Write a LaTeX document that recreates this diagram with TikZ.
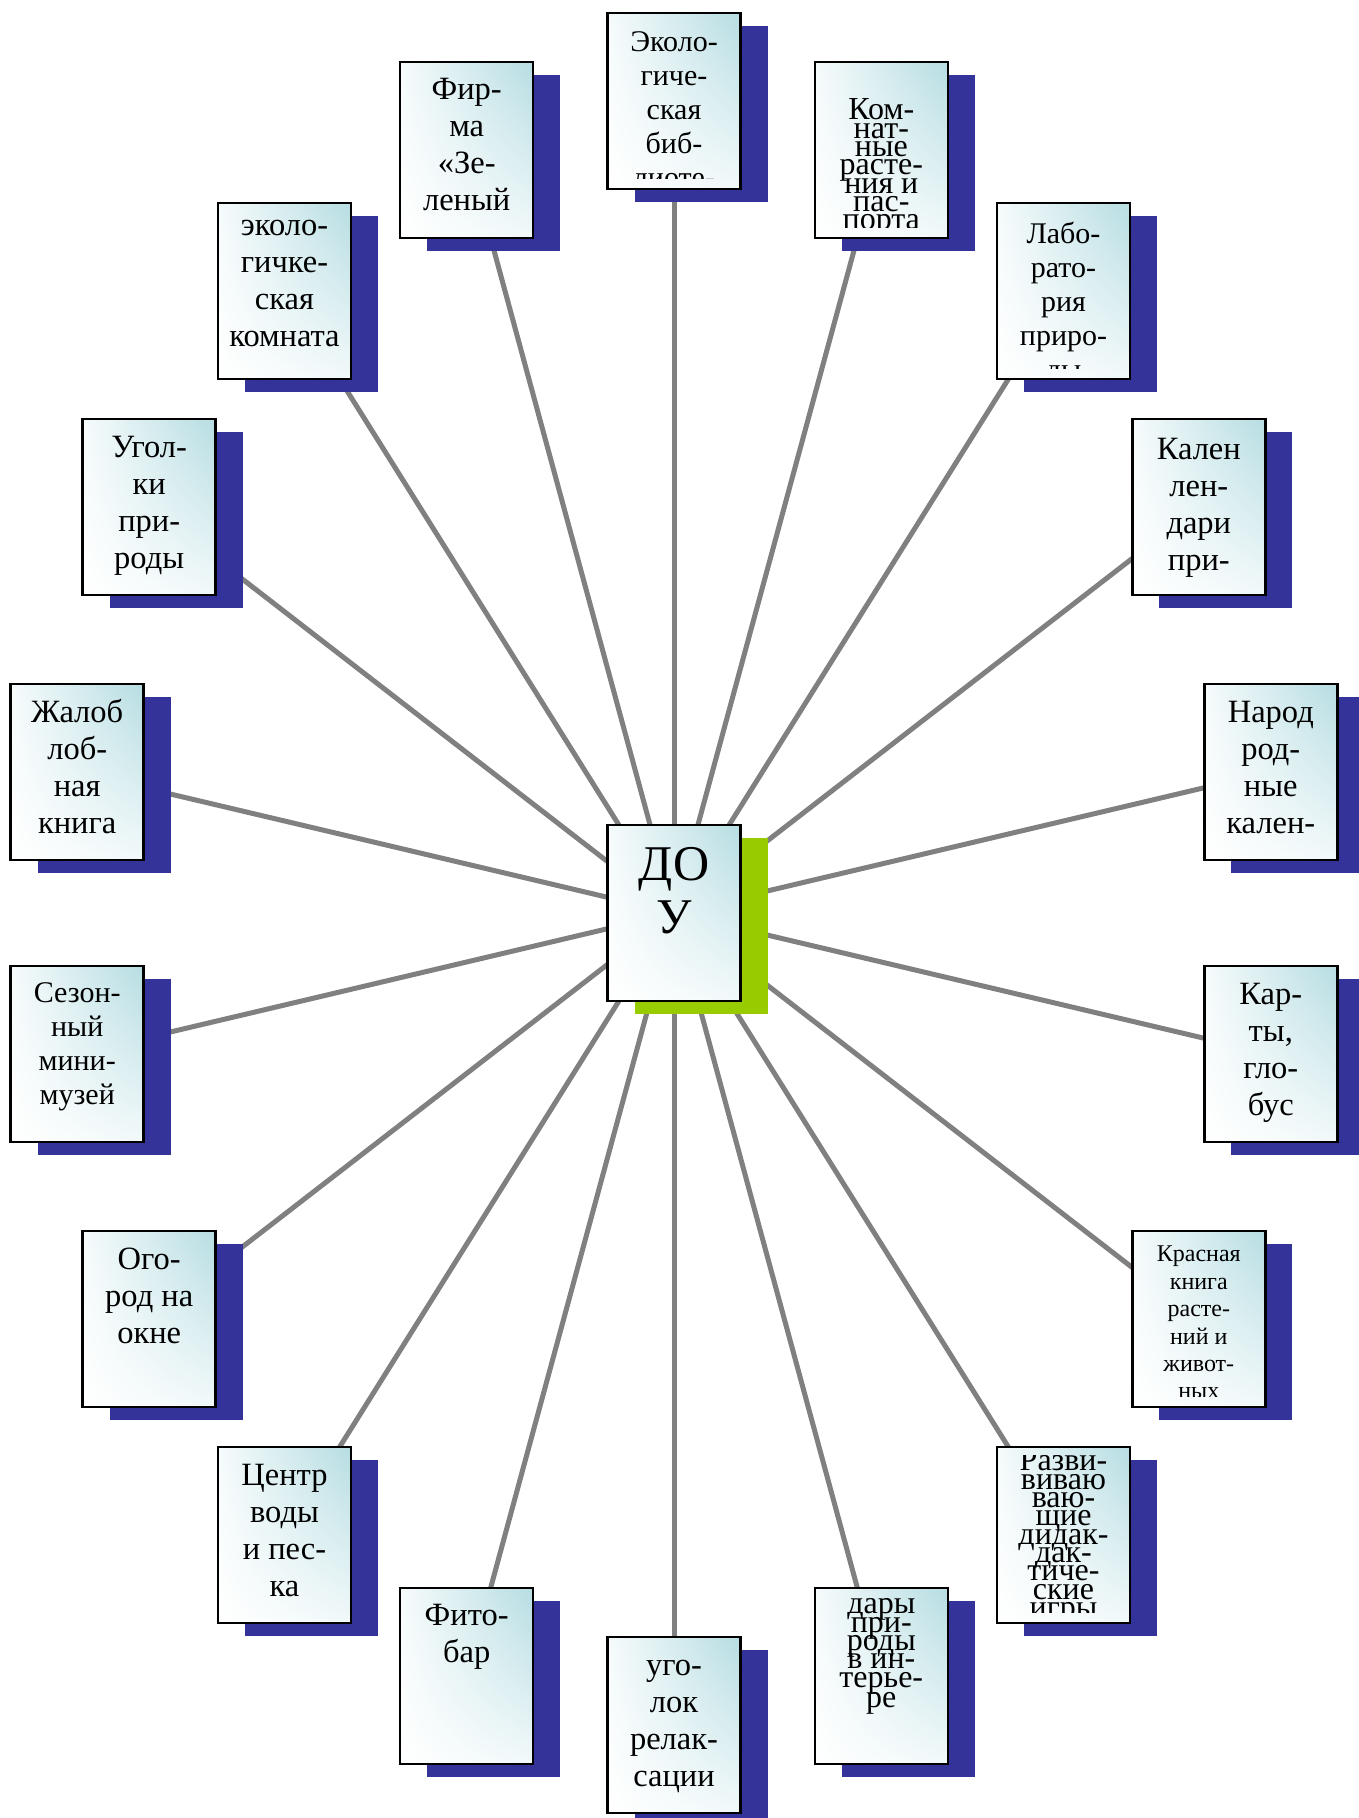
\documentclass[tikz,border=0pt]{standalone}
\usepackage{fontspec}
\setmainfont{Liberation Serif}
\usetikzlibrary{shadows,shadings}
\definecolor{shblue}{RGB}{51,51,153}
\definecolor{shgreen}{RGB}{153,204,0}
\definecolor{boxteal}{RGB}{182,221,226}
\definecolor{conngray}{RGB}{128,128,128}
\pgfdeclarelayer{bg}
\pgfsetlayers{bg,main}
\lineskiplimit=-1000pt
\newcommand{\fsnorm}{\fontsize{32.5}{37}\selectfont}
\newcommand{\fsmid}{\fontsize{30}{33.8}\selectfont}
\newcommand{\fstight}{\fontsize{32}{18.3}\selectfont}
\newcommand{\fssmall}{\fontsize{24}{27.4}\selectfont}
\newcommand{\fsbig}{\fontsize{50}{53}\selectfont}
\tikzset{
  ebox/.style={draw=black, line width=2.5pt, minimum width=133pt, minimum height=176pt,
     inner sep=0pt, upper right=boxteal, upper left=boxteal!12, lower right=boxteal!18,
     lower left=white,
     drop shadow={shadow xshift=27pt, shadow yshift=-13pt, opacity=1, fill=shblue, draw=none}},
  cbox/.style={ebox, drop shadow={shadow xshift=27pt, shadow yshift=-13pt, opacity=1, fill=shgreen, draw=none}},
  conn/.style={draw=conngray, line width=5pt},
  etext/.style={anchor=north, align=center, inner sep=0pt, font=\fsnorm},
  midstyle/.style={font=\fsmid},
  tightstyle/.style={font=\fstight},
  smallstyle/.style={font=\fssmall},
  bigstyle/.style={font=\fsbig},
}
% #1 box name, #2 first-baseline offset from box top, #3 style, #4 text
\newcommand{\boxtext}[4]{%
  \begin{scope}
    \clip ([xshift=3pt,yshift=-10pt]#1.north west) rectangle ([xshift=-3pt,yshift=12pt]#1.south east);
    \node[etext,#3] (#1t) at ([yshift=50pt-#2pt]#1.north) {\rule{0pt}{50pt}#4};
  \end{scope}}
\begin{document}
\begin{tikzpicture}[x=1pt,y=-1pt]
\useasboundingbox (0,0) rectangle (1359,1818);
% boxes
\node[ebox] (b0) at (674,101) {};
\node[ebox] (b1) at (881.3,150) {};
\node[ebox] (b2) at (1063.5,291) {};
\node[ebox] (b3) at (1198.8,507) {};
\node[ebox] (b4) at (1270.8,772) {};
\node[ebox] (b5) at (1270.8,1054) {};
\node[ebox] (b6) at (1198.8,1319) {};
\node[ebox] (b7) at (1063.5,1535) {};
\node[ebox] (b8) at (881.3,1676) {};
\node[ebox] (b9) at (674,1725) {};
\node[ebox] (b10) at (466.7,1676) {};
\node[ebox] (b11) at (284.5,1535) {};
\node[ebox] (b12) at (149.2,1319) {};
\node[ebox] (b13) at (77.2,1054) {};
\node[ebox] (b14) at (77.2,772) {};
\node[ebox] (b15) at (149.2,507) {};
\node[ebox] (b16) at (284.5,291) {};
\node[ebox] (b17) at (466.7,150) {};
\node[cbox] (c) at (674,913) {};
% connectors
\begin{pgfonlayer}{bg}
\foreach \i in {0,...,17} {\draw[conn] (c.center) -- (b\i.center);}
\end{pgfonlayer}
% texts
\boxtext{c}{57}{bigstyle}{ДО\\У}
\boxtext{b0}{40}{midstyle}{Эколо-\\гиче-\\ская\\биб-\\лиоте-}
\boxtext{b1}{59}{tightstyle}{Ком-\\нат-\\ные\\расте-\\ния и\\пас-\\порта}
\boxtext{b2}{42}{midstyle}{Лабо-\\рато-\\рия\\приро-\\ды}
\boxtext{b3}{42}{}{Кален\\лен-\\дари\\при-}
\boxtext{b4}{40}{}{Народ\\род-\\ные\\кален-}
\boxtext{b5}{40}{}{Кар-\\ты,\\гло-\\бус}
\boxtext{b6}{32}{smallstyle}{Красная\\книга\\расте-\\ний и\\живот-\\ных}
\boxtext{b7}{25}{tightstyle}{Разви-\\виваю\\ваю-\\щие\\дидак-\\дак-\\тиче-\\ские\\игры}
\boxtext{b8}{27}{tightstyle}{дары\\при-\\роды\\в ин-\\терье-\\[2pt]ре}
\boxtext{b9}{40}{}{уго-\\лок\\релак-\\сации}
\boxtext{b10}{39}{}{Фито-\\бар}
\boxtext{b11}{40}{}{Центр\\воды\\и пес-\\ка}
\boxtext{b12}{40}{}{Ого-\\род на\\окне}
\boxtext{b13}{38}{midstyle}{Сезон-\\ный\\мини-\\музей}
\boxtext{b14}{40}{}{Жалоб\\лоб-\\ная\\книга}
\boxtext{b15}{40}{}{Угол-\\ки\\при-\\роды}
\boxtext{b16}{34}{}{эколо-\\гичке-\\ская\\комната}
\boxtext{b17}{39}{}{Фир-\\ма\\«Зе-\\леный}
\end{tikzpicture}
\end{document}
